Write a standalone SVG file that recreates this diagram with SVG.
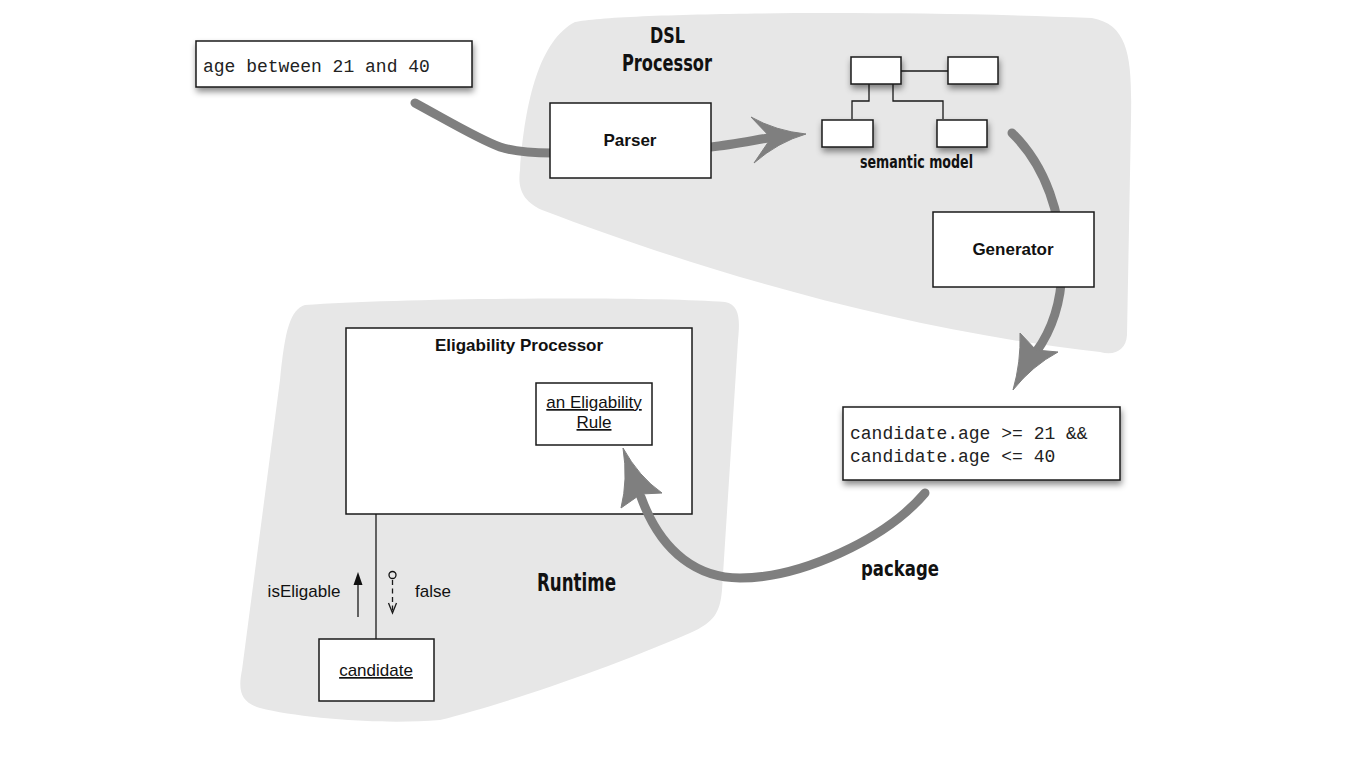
<svg xmlns="http://www.w3.org/2000/svg" width="1366" height="772" viewBox="0 0 1366 772">
<defs>
<filter id="sh" x="-20%" y="-30%" width="140%" height="180%">
<feDropShadow dx="1" dy="4" stdDeviation="3" flood-color="#000" flood-opacity="0.45"/>
</filter>
<style>
.blob{fill:#e7e7e7;stroke:none}
.box{fill:#fff;stroke:#1a1a1a;stroke-width:1.5}
.lbl{font-family:"Liberation Sans",Arial,sans-serif;font-size:17px;fill:#111;text-anchor:middle}
.b{font-weight:bold}
.mono{font-family:"Liberation Mono","Courier New",monospace;font-size:18px;fill:#222}
.hand{font-family:"DejaVu Sans Condensed","DejaVu Sans",sans-serif;font-weight:bold;fill:#111}
.fat{fill:none;stroke:#7f7f7f;stroke-width:9;stroke-linecap:round}
.head{fill:#7f7f7f;stroke:#7f7f7f;stroke-width:1;stroke-linejoin:round}
.thin{fill:none;stroke:#1a1a1a;stroke-width:1.3}
</style>
</defs>
<rect width="1366" height="772" fill="#fff"/>

<g id="dsl-processor-area">
<path class="blob" d="M575,22 C620,12 900,10 1092,18 C1130,25 1132,60 1131,120 L1127,335 C1126,350 1115,356 1100,352 C900,330 700,270 542,210 C520,200 518,185 520,170 C525,100 540,40 575,22 Z"/>
<text class="hand" x="650" y="43" font-size="22" textLength="35" lengthAdjust="spacingAndGlyphs">DSL</text>
<text class="hand" x="622" y="71" font-size="23" textLength="90" lengthAdjust="spacingAndGlyphs">Processor</text>
</g>

<g id="runtime-area">
<path class="blob" d="M305,305 C400,298 650,296 725,302 C740,305 740,320 738,340 L722,590 C720,612 715,622 690,633 C600,672 500,705 440,720 C380,725 300,718 260,708 C240,702 238,690 242,670 L280,380 C285,330 290,310 305,305 Z"/>
<text class="hand" x="537" y="591" font-size="24" textLength="79" lengthAdjust="spacingAndGlyphs">Runtime</text>
</g>

<g id="eligability-processor">
<rect class="box" x="346" y="328" width="346" height="186"/>
<text class="lbl b" x="519" y="351">Eligability Processor</text>
</g>

<g id="eligability-rule">
<rect class="box" x="536" y="383" width="116" height="62"/>
<text class="lbl" x="594" y="408" text-decoration="underline">an Eligability</text>
<text class="lbl" x="594" y="428" text-decoration="underline">Rule</text>
</g>

<g id="connectors">
<path class="fat" d="M415,103 C450,122 480,140 500,147 C515,152 530,153 552,153"/>
<path class="fat" d="M711,147 C730,145 750,141 768,138"/>
<path class="head" d="M806,134 Q776,131 751,117 L771,138 L754,163 Q778,142 806,134 Z"/>
<path class="fat" d="M1012,133 C1045,165 1063,215 1062,270 C1061,305 1052,330 1036,352"/>
<path class="head" d="M1013,390 Q1021,362 1020,333 L1036,350 L1058,352 Q1032,366 1013,390 Z"/>
<path class="fat" d="M925,493 C885,540 800,578 740,578 C700,578 662,555 641,497"/>
<path class="head" d="M623,448 Q628,480 621,508 L641,494 L662,493 Q639,477 623,448 Z"/>
<line class="thin" x1="376" y1="514" x2="376" y2="639"/>
<line class="thin" x1="358" y1="617" x2="358" y2="582"/>
<polygon points="358,572 353.5,585 362.5,585" fill="#111"/>
<circle cx="392.5" cy="575" r="3.5" fill="none" stroke="#111" stroke-width="1.3"/>
<line class="thin" x1="392.5" y1="580" x2="392.5" y2="611" stroke-dasharray="5,3.5"/>
<polyline class="thin" points="388.5,603 392.5,613 396.5,603"/>
<g id="model-links">
<line class="thin" x1="901" y1="71" x2="948" y2="71"/>
<polyline class="thin" points="869,84 869,101 852,101 852,119"/>
<polyline class="thin" points="893,84 893,101 943,101 943,119"/>
</g>
</g>

<g id="dsl-input">
<rect class="box" x="196" y="41" width="276" height="46" filter="url(#sh)"/>
<text class="mono" x="203" y="72">age between 21 and 40</text>
</g>

<g id="parser">
<rect class="box" x="550" y="103" width="161" height="75"/>
<text class="lbl b" x="630" y="146">Parser</text>
</g>

<g id="semantic-model">
<rect class="box" x="851" y="57" width="50" height="27" filter="url(#sh)"/>
<rect class="box" x="948" y="57" width="50" height="27" filter="url(#sh)"/>
<rect class="box" x="822" y="120" width="51" height="27" filter="url(#sh)"/>
<rect class="box" x="937" y="120" width="50" height="27" filter="url(#sh)"/>
<text class="hand" x="860" y="168" font-size="17" textLength="113" lengthAdjust="spacingAndGlyphs">semantic model</text>
</g>

<g id="generator">
<rect class="box" x="933" y="212" width="161" height="75"/>
<text class="lbl b" x="1013" y="255">Generator</text>
</g>

<g id="generated-code">
<rect class="box" x="843" y="407" width="277" height="73" filter="url(#sh)"/>
<text class="mono" x="850" y="439">candidate.age &gt;= 21 &amp;&amp;</text>
<text class="mono" x="850" y="462">candidate.age &lt;= 40</text>
<text class="hand" x="861" y="576" font-size="22" textLength="78" lengthAdjust="spacingAndGlyphs">package</text>
</g>

<g id="candidate">
<rect class="box" x="319" y="639" width="115" height="62"/>
<text class="lbl" x="376" y="676" text-decoration="underline">candidate</text>
<text class="lbl" x="304" y="597">isEligable</text>
<text class="lbl" x="433" y="597">false</text>
</g>
</svg>
